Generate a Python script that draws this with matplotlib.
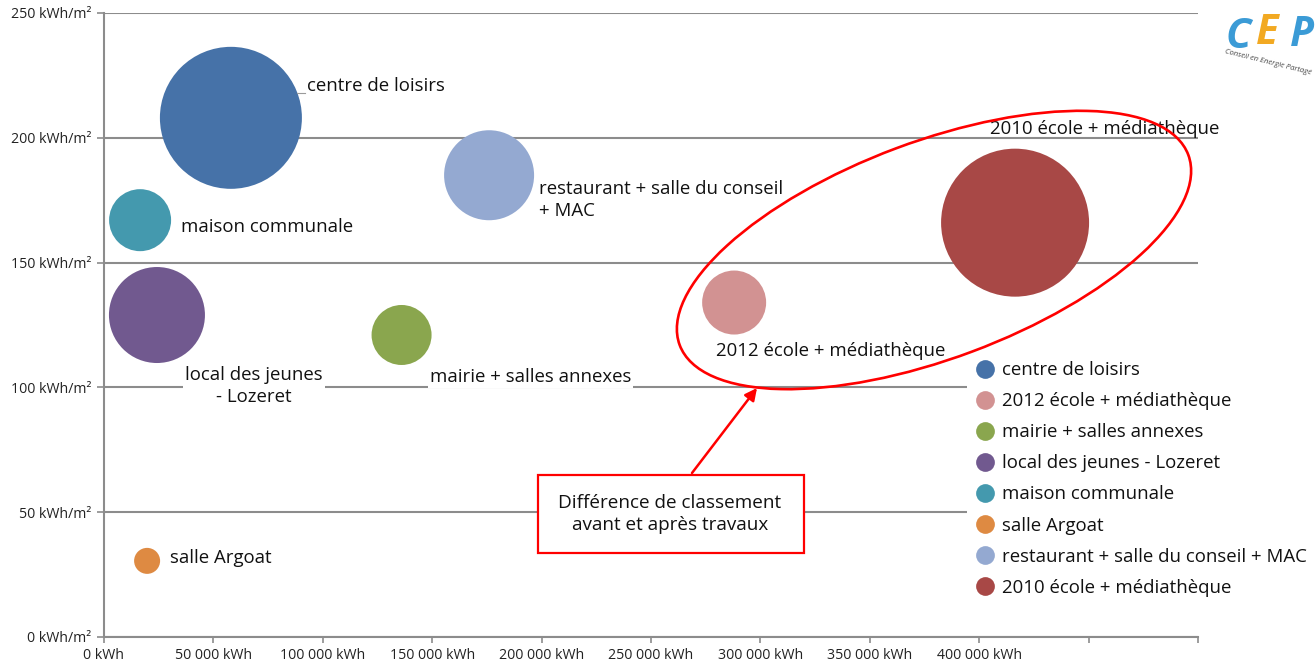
import matplotlib
matplotlib.use("Agg")
import matplotlib.pyplot as plt
from matplotlib.patches import Ellipse, Rectangle, FancyArrowPatch
from matplotlib.lines import Line2D
from matplotlib.transforms import IdentityTransform

# ---------------- data ----------------
batiments = [
    "centre de loisirs",
    "2012 école + médiathèque",
    "mairie + salles annexes",
    "local des jeunes - Lozeret",
    "maison communale",
    "salle Argoat",
    "restaurant + salle du conseil + MAC",
    "2010 école + médiathèque",
]
conso_kwh = [58000, 288000, 136000, 24200, 16500, 19700, 176000, 416400]
ratio_kwh_m2 = [208, 134, 121, 129, 167, 30.5, 185, 166]
taille_bulle = [5041, 1024, 900, 2304, 961, 169, 2025, 5476]
couleurs = ["#4672A8", "#D29292", "#8AA64E", "#71598F",
            "#4499AE", "#DE8A42", "#94A9D1", "#A84846"]

etiquettes = [
    "centre de loisirs",
    "2012 école + médiathèque",
    "mairie + salles annexes",
    "local des jeunes\n- Lozeret",
    "maison communale",
    "salle Argoat",
    "restaurant + salle du conseil\n+ MAC",
    "2010 école + médiathèque",
]

y_ticks = [0, 50, 100, 150, 200, 250]
y_labels = ["0 kWh/m²", "50 kWh/m²", "100 kWh/m²", "150 kWh/m²",
            "200 kWh/m²", "250 kWh/m²"]
x_ticks = [0, 50000, 100000, 150000, 200000, 250000, 300000, 350000,
           400000, 450000, 500000]
x_labels = ["0 kWh", "50 000 kWh", "100 000 kWh", "150 000 kWh",
            "200 000 kWh", "250 000 kWh", "300 000 kWh", "350 000 kWh",
            "400 000 kWh", "", ""]

# label placement (pixel offsets from bubble centre, ha, white box)
label_style = [
    (76, 32, "left", False),
    (-18, -48, "left", False),
    (28, -42, "left", True),
    (97, -71, "center", True),
    (41, -7, "left", False),
    (23, 3, "left", False),
    (50, -25, "left", False),
    (-25, 94, "left", False),
]

FONT = "Open Sans"
plt.rcParams["font.family"] = [FONT, "DejaVu Sans"]

W, H = 1315, 662
fig = plt.figure(figsize=(W / 100, H / 100), dpi=100)
ax = fig.add_axes([104 / W, 1 - 637 / H, (1198 - 104) / W, (637 - 13) / H])

ax.set_xlim(0, 500000)
ax.set_ylim(0, 250)
grid_c = "#8C8C8C"
for sp in ["top", "right"]:
    ax.spines[sp].set_visible(False)
for sp in ["left", "bottom"]:
    ax.spines[sp].set_color(grid_c)
    ax.spines[sp].set_linewidth(1.5)
ax.yaxis.grid(True, color=grid_c, linewidth=1.5, zorder=0)
ax.set_axisbelow(True)
ax.set_yticks(y_ticks)
ax.set_yticklabels(y_labels, fontsize=10.2, color="#222222")
ax.set_xticks(x_ticks)
ax.set_xticklabels(x_labels, fontsize=10.2, color="#222222")
ax.tick_params(axis="y", direction="out", length=5, width=1.2, color=grid_c, pad=4)
ax.tick_params(axis="x", direction="out", length=4, width=1.2, color=grid_c, pad=4)

px2pt = 0.72
sizes = [t * (2 * px2pt) ** 2 for t in taille_bulle]
ax.scatter(conso_kwh, ratio_kwh_m2, s=sizes, c=couleurs, linewidths=0, zorder=3)

for x, y, lab, (dx, dy, ha, box) in zip(conso_kwh, ratio_kwh_m2, etiquettes, label_style):
    kw = {}
    if box:
        kw["bbox"] = dict(facecolor="white", edgecolor="none", pad=1.5)
    ax.annotate(lab, (x, y), xytext=(dx * px2pt, dy * px2pt), textcoords="offset points",
                ha=ha, va="center", multialignment=ha, fontsize=13.4, color="#111111",
                linespacing=1.25, zorder=4, **kw)

ident = IdentityTransform()
# small leader mark next to "centre de loisirs"
fig.add_artist(Line2D([297, 305], [H - 93, H - 93], color="#9A9A9A", linewidth=0.8,
                      transform=ident))

# legend
handles = [Line2D([], [], marker="o", ls="", markersize=13.5, color=c, markeredgewidth=0)
           for c in couleurs]
leg = fig.legend(handles, batiments, loc="upper left",
                 bbox_to_anchor=(967 / W, 1 - 353 / H), borderaxespad=0,
                 borderpad=0.45, handlelength=1.0, handletextpad=0.45,
                 labelspacing=0.70, fontsize=13.4, frameon=True, fancybox=False)
leg.get_frame().set_facecolor("white")
leg.get_frame().set_edgecolor("none")
leg.get_frame().set_alpha(1)
for t in leg.get_texts():
    t.set_color("#111111")

# red annotation: ellipse, box, arrow (figure pixels)
ell = Ellipse((934, H - 250), 543, 217, angle=20.5, fill=False, edgecolor="#FF0000",
              linewidth=1.9, transform=ident, zorder=10)
fig.add_artist(ell)
rect = Rectangle((538, H - 553), 266, 78, fill=True, facecolor="white",
                 edgecolor="#FF0000", linewidth=1.6, transform=ident, zorder=10)
fig.add_artist(rect)
fig.text(670 / W, 1 - 514 / H, "Différence de classement\navant et après travaux",
         ha="center", va="center", fontsize=13.6, color="#111111", linespacing=1.35,
         zorder=11)
arrow = FancyArrowPatch((692, H - 473), (757, H - 388), arrowstyle="-|>",
                        mutation_scale=18, color="#FF0000", linewidth=1.8,
                        transform=ident, zorder=10, shrinkA=0, shrinkB=0)
fig.add_artist(arrow)

# logo (top right, cut by the edge)
fig.text(1226 / W, 1 - 38 / H, "C", fontsize=30, color="#3B9BD6", fontstyle="italic",
         fontweight="bold", va="center", ha="left")
fig.text(1256 / W, 1 - 34 / H, "E", fontsize=30, color="#F2A922", fontstyle="italic",
         fontweight="bold", va="center", ha="left")
fig.text(1290 / W, 1 - 36 / H, "P", fontsize=30, color="#3B9BD6", fontstyle="italic",
         fontweight="bold", va="center", ha="left")
fig.text(1224 / W, 1 - 62 / H, "Conseil en Energie Partagé", fontsize=5.5, color="#444444",
         rotation=-14, fontstyle="italic", va="center", ha="left")

fig.savefig("out.png", dpi=100, facecolor="white")
